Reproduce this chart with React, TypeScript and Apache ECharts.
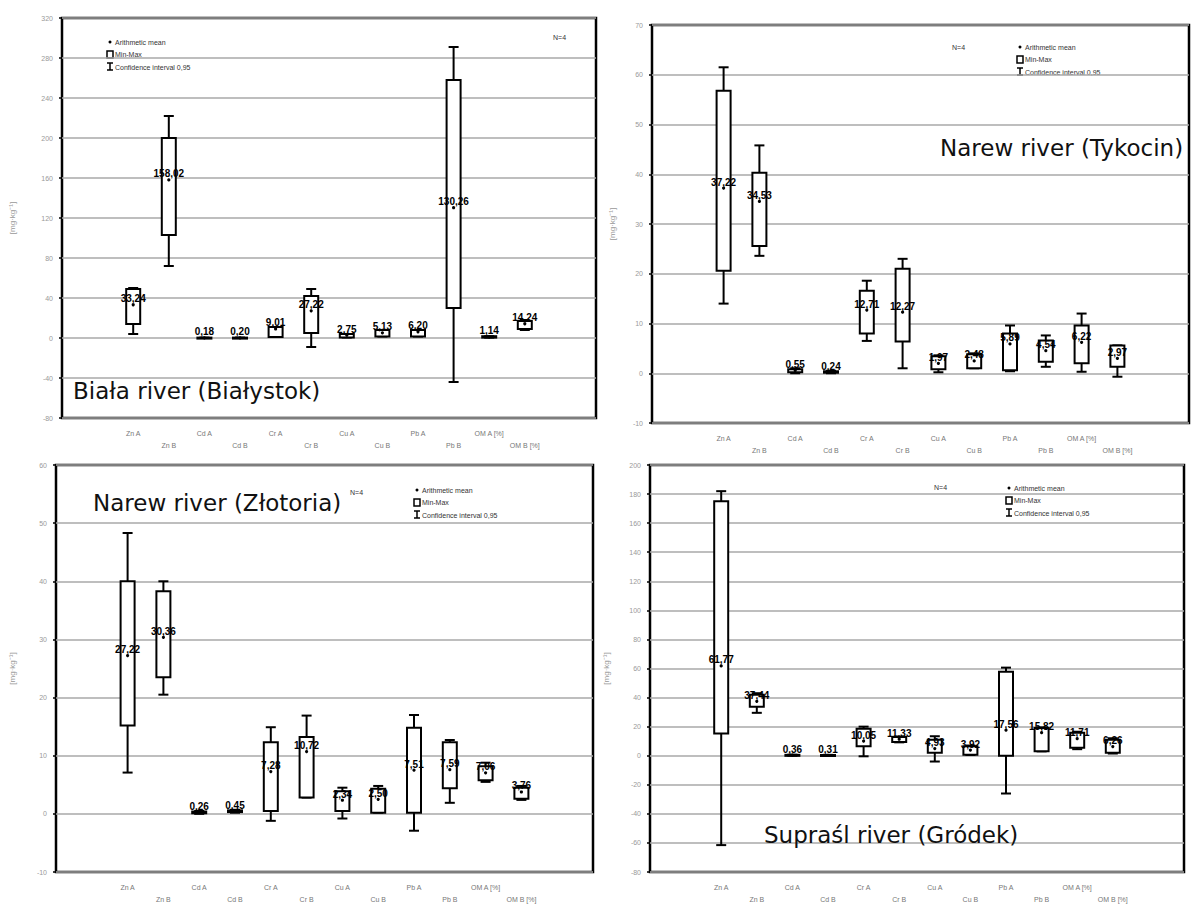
import React, { useEffect, useRef } from 'react';
import * as echarts from 'echarts';

const categories = ['Zn A', 'Zn B', 'Cd A', 'Cd B', 'Cr A', 'Cr B', 'Cu A', 'Cu B', 'Pb A', 'Pb B', 'OM A [%]', 'OM B [%]'];

// Biała river (Białystok)
const bialaMean = [33.24, 158.02, 0.18, 0.2, 9.01, 27.22, 2.75, 5.13, 6.2, 130.26, 1.14, 14.24];
const bialaMin = [14, 103, 0, 0, 1, 5, 0.5, 1.5, 1.5, 30, 0.4, 9];
const bialaMax = [49, 200, 0.4, 0.4, 11, 42, 4, 8, 8, 258, 1.8, 17];
const bialaCiLo = [4, 72, 0, 0, 1, -9, 0.5, 1.5, 1.5, -44, 0.4, 8];
const bialaCiHi = [50, 222, 0.4, 0.4, 11, 49, 4, 8, 8, 291, 1.8, 18];
const bialaTicks = [-80, 320, 40];

// Narew river (Tykocin)
const tykocinMean = [37.22, 34.53, 0.55, 0.24, 12.71, 12.27, 1.97, 2.48, 5.89, 4.54, 6.22, 2.97];
const tykocinMin = [20.6, 25.6, 0.2, 0.1, 8, 6.4, 0.8, 1, 0.6, 2.3, 2, 1.3];
const tykocinMax = [56.8, 40.3, 0.8, 0.4, 16.6, 21, 3.4, 3.8, 8, 6.6, 9.6, 5.6];
const tykocinCiLo = [14, 23.6, 0, 0, 6.5, 1, 0.2, 1, 0.4, 1.3, 0.3, -0.7];
const tykocinCiHi = [61.5, 45.8, 1, 0.5, 18.6, 23, 3.6, 4, 9.6, 7.6, 12, 5.6];
const tykocinTicks = [-10, 70, 10];

// Narew river (Złotoria)
const zlotoriaMean = [27.22, 30.36, 0.26, 0.45, 7.28, 10.72, 2.34, 2.5, 7.51, 7.59, 7.06, 3.76];
const zlotoriaMin = [15.2, 23.5, 0.1, 0.3, 0.5, 2.8, 0.5, 0.2, 0.2, 4.4, 5.8, 2.6];
const zlotoriaMax = [40, 38.3, 0.4, 0.6, 12.3, 13.2, 3.9, 4.3, 14.8, 12.3, 8.2, 4.5];
const zlotoriaCiLo = [7.1, 20.5, 0, 0.2, -1.2, 2.8, -0.8, 0.2, -2.9, 1.9, 5.5, 2.4];
const zlotoriaCiHi = [48.3, 40, 0.5, 0.7, 14.9, 16.9, 4.5, 4.8, 17, 12.7, 8.8, 4.8];
const zlotoriaTicks = [-10, 60, 10];

// Supraśl river (Gródek)
const grodekMean = [61.77, 37.44, 0.36, 0.31, 10.05, 11.33, 4.93, 3.92, 17.56, 15.82, 11.71, 6.26];
const grodekMin = [15.2, 33.6, 0.1, 0.1, 6.5, 9.5, 2, 0.7, 0, 3, 5.5, 2];
const grodekMax = [175, 42, 0.6, 0.5, 18.5, 12.8, 11, 6.5, 57.7, 19, 15.8, 11];
const grodekCiLo = [-61.5, 29.5, 0, 0, -0.4, 9.2, -4, 0.5, -26, 3, 4.5, 1.5];
const grodekCiHi = [182, 43, 0.7, 0.6, 20, 13.2, 13.4, 7, 60.6, 19.5, 16.5, 12];
const grodekTicks = [-80, 200, 20];

const legendLabels = ['Arithmetic mean', 'Min-Max', 'Confidence interval 0,95'];
const nLabel = 'N=4';
const yName = '[mg·kg⁻¹]';

const panels = [
  {
    title: 'Biała river (Białystok)', mean: bialaMean, lo: bialaMin, hi: bialaMax, ciLo: bialaCiLo, ciHi: bialaCiHi, ticks: bialaTicks,
    grid: { left: 62, top: 18, width: 534, height: 400 }, nameGap: 46, titlePos: [73, 391], nPos: [553, 37], legendPos: [107, 42],
  },
  {
    title: 'Narew river (Tykocin)', mean: tykocinMean, lo: tykocinMin, hi: tykocinMax, ciLo: tykocinCiLo, ciHi: tykocinCiHi, ticks: tykocinTicks,
    grid: { left: 652, top: 25, width: 538, height: 398 }, nameGap: 36, titlePos: [940, 148], nPos: [952, 47], legendPos: [1017, 47],
  },
  {
    title: 'Narew river (Złotoria)', mean: zlotoriaMean, lo: zlotoriaMin, hi: zlotoriaMax, ciLo: zlotoriaCiLo, ciHi: zlotoriaCiHi, ticks: zlotoriaTicks,
    grid: { left: 56, top: 465, width: 537, height: 408 }, nameGap: 40, titlePos: [93, 503], nPos: [350, 492], legendPos: [414, 490],
  },
  {
    title: 'Supraśl river (Gródek)', mean: grodekMean, lo: grodekMin, hi: grodekMax, ciLo: grodekCiLo, ciHi: grodekCiHi, ticks: grodekTicks,
    grid: { left: 650, top: 465, width: 534, height: 408 }, nameGap: 40, titlePos: [764, 835], nPos: [934, 487], legendPos: [1006, 488],
  },
];

const fmt = (v: number) => v.toFixed(2).replace('.', ',');

function renderBox(params: any, api: any) {
  const x = api.value(0);
  const pLo = api.coord([x, api.value(1)]);
  const pHi = api.coord([x, api.value(2)]);
  const cLo = api.coord([x, api.value(3)]);
  const cHi = api.coord([x, api.value(4)]);
  const pm = api.coord([x, api.value(5)]);
  const cx = pm[0];
  const hw = 7;
  const cw = 5;
  const st = { stroke: '#000', lineWidth: 2 };
  return {
    type: 'group',
    children: [
      { type: 'line', shape: { x1: cx, y1: cLo[1], x2: cx, y2: cHi[1] }, style: st },
      { type: 'line', shape: { x1: cx - cw, y1: cLo[1], x2: cx + cw, y2: cLo[1] }, style: st },
      { type: 'line', shape: { x1: cx - cw, y1: cHi[1], x2: cx + cw, y2: cHi[1] }, style: st },
      {
        type: 'rect',
        shape: { x: cx - hw, y: pHi[1], width: hw * 2, height: Math.max(pLo[1] - pHi[1], 1) },
        style: { stroke: '#000', lineWidth: 2, fill: '#fff' },
      },
      { type: 'circle', shape: { cx, cy: pm[1], r: 1.6 }, style: { fill: '#000' } },
      {
        type: 'text',
        x: cx,
        y: pm[1] - 6,
        style: {
          text: fmt(api.value(5)),
          fill: '#000',
          font: 'bold 10px "Liberation Sans", Arial, sans-serif',
          align: 'center',
          verticalAlign: 'middle',
          textAlign: 'center',
          textVerticalAlign: 'middle',
        },
      },
    ],
  };
}

function legendGraphics(p: any) {
  const [lx, ly] = p.legendPos;
  const txt = (t: string, x: number, y: number) => ({
    type: 'text', x, y,
    style: { text: t, fill: '#333', font: '7px "Liberation Sans", Arial, sans-serif', verticalAlign: 'middle', textVerticalAlign: 'middle' },
  });
  return [
    { type: 'circle', shape: { cx: lx + 3, cy: ly, r: 1.5 }, style: { fill: '#000' } },
    txt(legendLabels[0], lx + 8, ly),
    { type: 'rect', shape: { x: lx, y: ly + 9, width: 6, height: 7 }, style: { stroke: '#000', lineWidth: 1.5, fill: '#fff' } },
    txt(legendLabels[1], lx + 8, ly + 12.5),
    { type: 'line', shape: { x1: lx + 3, y1: ly + 21, x2: lx + 3, y2: ly + 28 }, style: { stroke: '#000', lineWidth: 1.5 } },
    { type: 'line', shape: { x1: lx, y1: ly + 21, x2: lx + 6, y2: ly + 21 }, style: { stroke: '#000', lineWidth: 1.5 } },
    { type: 'line', shape: { x1: lx, y1: ly + 28, x2: lx + 6, y2: ly + 28 }, style: { stroke: '#000', lineWidth: 1.5 } },
    txt(legendLabels[2], lx + 8, ly + 25),
    txt(nLabel, p.nPos[0], p.nPos[1]),
  ];
}

export default function App() {
  const ref = useRef<HTMLDivElement>(null);
  useEffect(() => {
    if (!ref.current) return;
    const chart = echarts.init(ref.current, undefined, { renderer: 'svg' });
    const option: any = {
      animation: false,
      backgroundColor: '#fff',
      grid: panels.map((p) => ({ ...p.grid, show: true, borderColor: '#000', borderWidth: 2.5, backgroundColor: 'transparent', containLabel: false })),
      xAxis: panels.map((p, i) => ({
        type: 'value', gridIndex: i, min: 0, max: 15, interval: 1,
        splitLine: { show: false }, axisLine: { show: false }, axisTick: { show: false },
        axisLabel: {
          fontSize: 7, color: '#777', margin: 9, lineHeight: 12, fontFamily: 'Liberation Sans, Arial, sans-serif',
          formatter: (v: number) => {
            const k = Math.round(v) - 2;
            if (k < 0 || k >= categories.length) return '';
            return k % 2 === 0 ? categories[k] : '\n' + categories[k];
          },
        },
      })),
      yAxis: panels.map((p, i) => ({
        type: 'value', gridIndex: i, min: p.ticks[0], max: p.ticks[1], interval: p.ticks[2],
        splitLine: { show: true, lineStyle: { color: '#a8a8a8', width: 1.6 } },
        axisLine: { show: false },
        axisTick: { show: true, length: 3, lineStyle: { color: '#000', width: 1.5 } },
        axisLabel: { fontSize: 7, color: '#999', margin: 9, fontFamily: 'Liberation Sans, Arial, sans-serif' },
        name: yName, nameLocation: 'middle', nameGap: p.nameGap, nameRotate: 90,
        nameTextStyle: { fontSize: 8, color: '#999', fontFamily: 'Liberation Sans, Arial, sans-serif' },
      })),
      series: panels.map((p, i) => ({
        type: 'custom', xAxisIndex: i, yAxisIndex: i,
        renderItem: renderBox,
        encode: { x: 0, y: [1, 2, 3, 4, 5] },
        data: categories.map((c, k) => [k + 2, p.lo[k], p.hi[k], p.ciLo[k], p.ciHi[k], p.mean[k]]),
        z: 5,
      })),
      graphic: [
        ...panels.map((p) => ({
          type: 'text', x: p.titlePos[0], y: p.titlePos[1], z: 10,
          style: { text: p.title, fill: '#111', font: '23px "DejaVu Sans", sans-serif', verticalAlign: 'middle', textVerticalAlign: 'middle' },
        })),
        ...panels.flatMap((p) => legendGraphics(p)),
      ],
    };
    chart.setOption(option);
    return () => chart.dispose();
  }, []);
  return <div ref={ref} style={{ position: 'fixed', left: 0, top: 0, width: 1192, height: 905, background: '#fff' }} />;
}
